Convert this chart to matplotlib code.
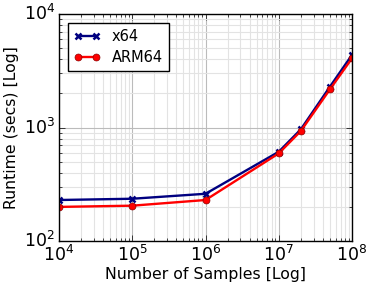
import matplotlib
matplotlib.use("Agg")
import matplotlib.pyplot as plt

plt.style.use("classic")

samples = [1e4, 1e5, 1e6, 1e7, 2e7, 5e7, 1e8]
x64 = [230, 236, 261, 612, 963, 2290, 4360]
arm64 = [200, 205, 230, 592, 931, 2170, 4070]

fig = plt.figure(figsize=(3.74, 2.88), dpi=100)
fig.patch.set_facecolor("white")
ax = fig.add_axes([0.158, 0.163, 0.783, 0.788])

ax.plot(samples, x64, color="navy", marker="x", markersize=4.5, mew=1.8, lw=1.7, label="x64")
ax.plot(samples, arm64, color="red", marker="o", markersize=5, mec="darkred", lw=1.7, label="ARM64")

ax.set_xscale("log")
ax.set_yscale("log")
ax.set_xlim(1e4, 1e8)
ax.set_ylim(1e2, 1e4)

ax.grid(True, which="major", color="#bbbbbb", linestyle="-", lw=0.8)
ax.grid(True, which="minor", color="#e3e3e3", linestyle="-", lw=0.8)
ax.set_axisbelow(True)

ax.set_xlabel("Number of Samples [Log]", fontsize=11.3, labelpad=1)
ax.set_ylabel("Runtime (secs) [Log]", fontsize=11.3, labelpad=3)
ax.tick_params(axis="both", which="both", labelsize=12.5, pad=3)

ax.legend(loc="upper left", fontsize=10.5, numpoints=2, handlelength=1.8,
          borderaxespad=0.6, labelspacing=0.45)

fig.savefig("out.png", dpi=100, facecolor="white")
